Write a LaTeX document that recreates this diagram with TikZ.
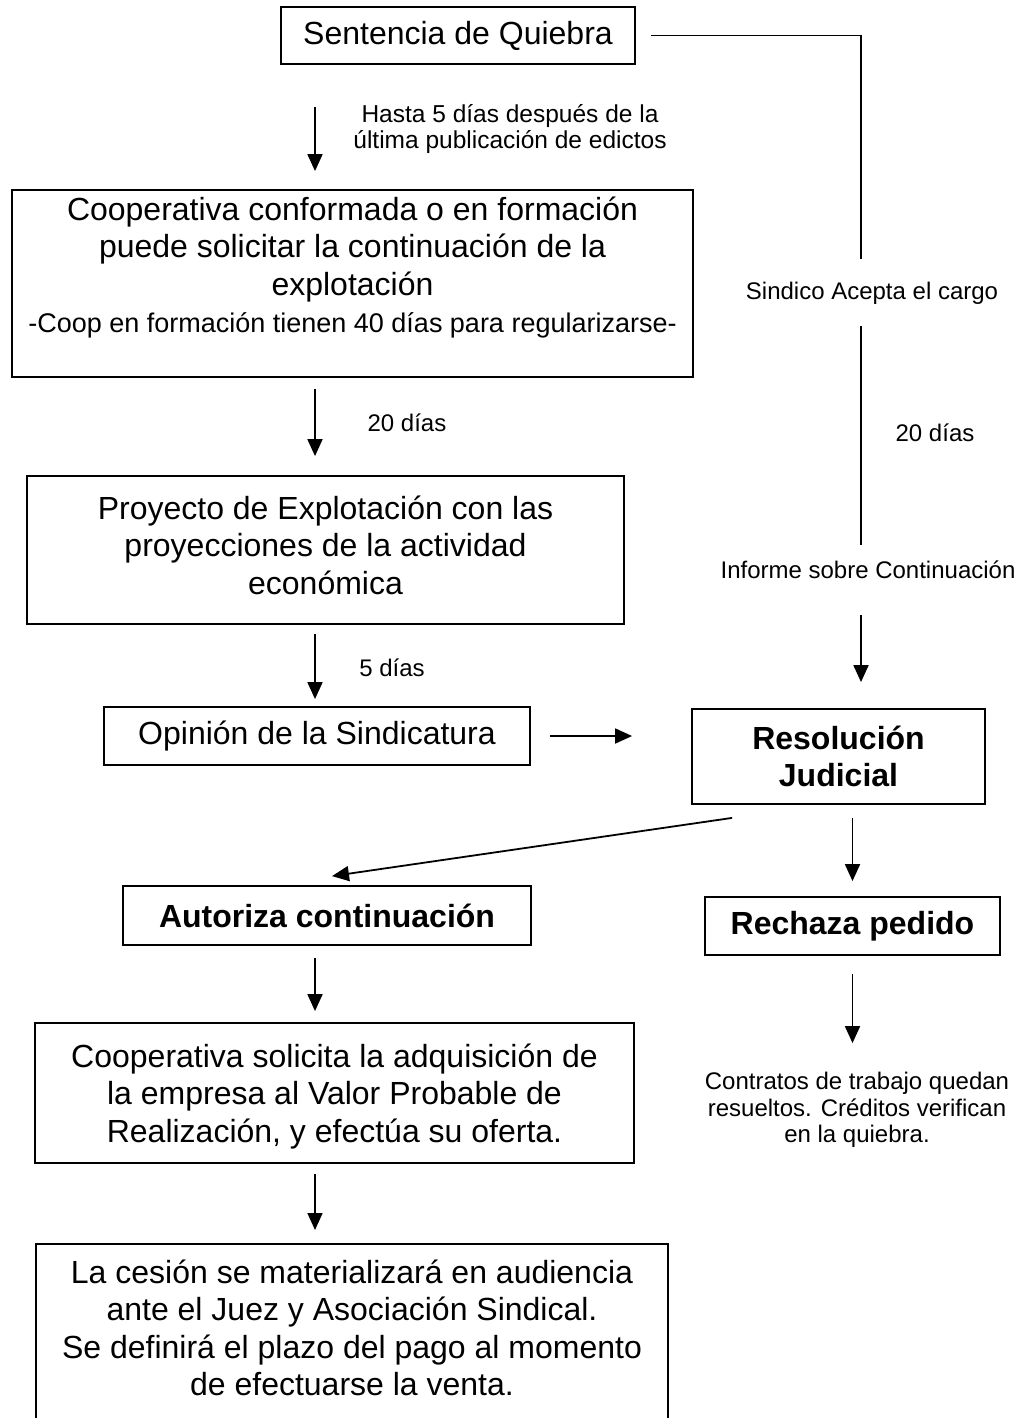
\documentclass[tikz,border=0pt]{standalone}
\usepackage{fontspec}
\setmainfont{Liberation Sans}
\usetikzlibrary{arrows.meta}
\newcommand{\txtgrande}{\fontsize{32}{37.5}\selectfont}
\newcommand{\txtchico}{\fontsize{24}{26.5}\selectfont}
\tikzset{
	caja/.style={rectangle, draw, line width=1.8pt, align=center, font=\txtgrande},
	cajab/.style={caja, font=\txtgrande\bfseries},
	etiq/.style={align=center, inner sep=0pt, font=\txtchico},
	flecha/.style={-{Triangle[width=15pt,length=17pt]}, line width=1.8pt},
	linea/.style={line width=1.8pt}
}

\begin{document}
\begin{tikzpicture}[x=1pt, y=-1pt]
		\useasboundingbox (0,0) rectangle (1031,1418);
		\clip (0,0) rectangle (1031,1418);
		\coordinate (lc) at (315,0);
		\coordinate (rc) at (861,0);

		\node[caja, minimum width=354pt, minimum height=57pt] at (458,35.5) (sent) {Sentencia de Quiebra};
		\node[etiq, font=\fontsize{24.5}{26.5}\selectfont] at (510,129) (hasta) {Hasta 5 días después de la\\última publicación de edictos};
		\node[caja, minimum width=681pt, minimum height=187pt, inner ysep=6pt] at (352.5,283.5) (coop) {Cooperativa conformada o en formación\\puede solicitar la continuación de la\\explotación\\{\fontsize{27}{30}\selectfont -Coop en formación tienen 40 días para regularizarse-}\\ \mbox{}};
		\node[etiq] at (407,423) (veinte) {20 días};
		\node[caja, minimum width=597pt, minimum height=148pt, text depth=10pt] at (325.5,550) (proy) {Proyecto de Explotación con las\\proyecciones de la actividad\\económica};
		\node[etiq] at (392,668) (cinco) {5 días};
		\node[caja, minimum width=426pt, minimum height=58pt] at (317,736) (opin) {Opinión de la Sindicatura};
		\node[etiq] at (872,293) (sindico) {Sindico Acepta el cargo};
		\node[etiq] at (935,433) (veinteb) {20 días};
		\node[etiq] at (868,570) (informe) {Informe sobre Continuación};
		\node[cajab, minimum width=293pt, minimum height=95pt] at (838.5,756.5) (resol) {Resolución\\Judicial};
		\node[cajab, minimum width=408pt, minimum height=59pt] at (327,915.5) (auto) {Autoriza continuación};
		\node[cajab, minimum width=295pt, minimum height=58pt] at (852.5,926) (rech) {Rechaza pedido};
		\node[etiq] at (857,1110) (contratos) {Contratos de trabajo quedan\\resueltos. Créditos verifican\\en la quiebra.};
		\node[caja, minimum width=599pt, minimum height=140pt, text depth=0pt] at (334.5,1093) (coops) {Cooperativa solicita la adquisición de\\la empresa al Valor Probable de\\Realización, y efectúa su oferta.};
		\node[caja, anchor=north, minimum width=632pt, inner ysep=16pt] at (352,1243) (cesion) {La cesión se materializará en audiencia\\ante el Juez y Asociación Sindical.\\Se definirá el plazo del pago al momento\\de efectuarse la venta.\\ \mbox{}\\ \mbox{}};

		%Lines
		\draw[flecha, shorten <=42pt, shorten >=18pt] (sent.south -| lc) -- (coop.north -| lc);
		\draw[flecha, shorten <=11pt, shorten >=19pt] (coop.south -| lc) -- (proy.north -| lc);
		\draw[flecha, shorten <=9pt, shorten >=7pt] (proy.south -| lc) -- (opin.north -| lc);
		\draw[flecha, shorten <=19pt, shorten >=59pt] (opin.east) -- (opin.east -| resol.west);
		\draw[linea, shorten <=15pt, shorten >=23pt] (sent.east) -- (sent.east -| rc) -- (sindico.north -| rc);
		\draw[linea, shorten <=22pt, shorten >=16pt] (sindico.south -| rc) -- (informe.north -| rc);
		\draw[flecha, shorten <=36pt, shorten >=26pt] (informe.south -| rc) -- (resol.north -| rc);
		\draw[flecha] ([xshift=41pt, yshift=-13pt]resol.south west) -- ([xshift=5pt, yshift=9pt]auto.north);
		\draw[flecha, shorten <=13pt, shorten >=15pt] (resol.south -| rech.north) -- (rech.north);
		\draw[flecha, shorten <=12pt, shorten >=11pt] (auto.south -| lc) -- (coops.north -| lc);
		\draw[flecha, shorten <=18pt, shorten >=29pt] (rech.south) -- (contratos.north -| rech.south);
		\draw[flecha, shorten <=10pt, shorten >=13pt] (coops.south -| lc) -- (cesion.north -| lc);
\end{tikzpicture}
\end{document}
